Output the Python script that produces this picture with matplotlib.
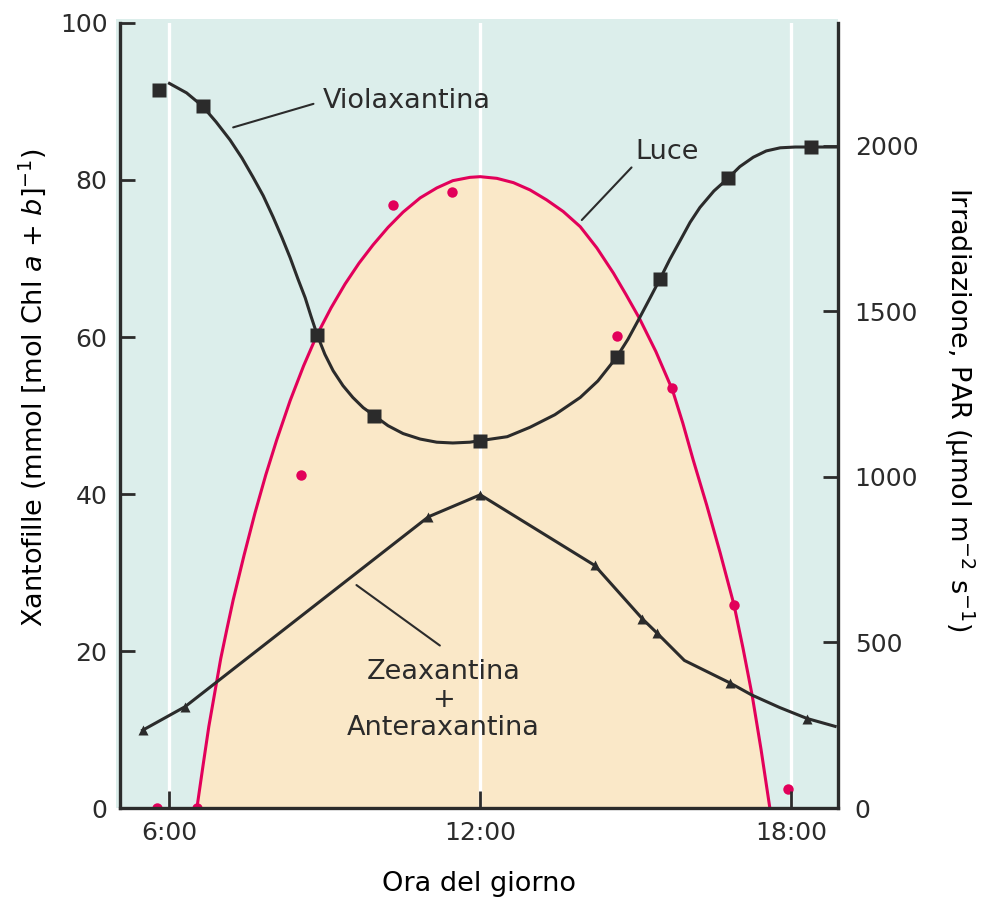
import matplotlib.pyplot as plt
from matplotlib.patches import Rectangle

# ore del giorno (h)
# Violaxantina: punti misurati (quadrati) e curva
viola_t = [5.80, 6.64, 8.85, 9.95, 12.0, 14.63, 15.47, 16.78, 18.38]
viola_v = [91.5, 89.4, 60.2, 50.0, 46.8, 57.4, 67.4, 80.2, 84.2]
viola_curve_t = [6.00, 6.33, 6.64, 6.90, 7.17, 7.40, 7.61, 7.81, 8.00, 8.17, 8.33, 8.48,
                 8.62, 8.73, 8.85, 9.00, 9.16, 9.35, 9.54, 9.74, 9.95, 10.22, 10.51,
                 10.84, 11.16, 11.47, 11.80, 12.0, 12.52, 12.96, 13.44, 13.93, 14.27,
                 14.63, 14.85, 15.08, 15.28, 15.47, 15.66, 15.86, 16.05, 16.24, 16.51,
                 16.78, 17.01, 17.27, 17.52, 17.79, 18.08, 18.38, 18.90]
viola_curve_v = [92.3, 91.1, 89.4, 87.4, 85.1, 82.8, 80.4, 78.0, 75.3, 72.7, 70.1, 67.4,
                 65.0, 62.7, 60.3, 57.8, 55.7, 53.8, 52.3, 51.0, 50.0, 48.7, 47.7,
                 47.0, 46.6, 46.5, 46.6, 46.8, 47.3, 48.5, 50.1, 52.3, 54.4,
                 57.4, 59.7, 62.5, 65.0, 67.4, 69.9, 72.3, 74.6, 76.5, 78.6,
                 80.2, 81.7, 82.9, 83.7, 84.1, 84.2, 84.2, 84.2]

# Zeaxantina + Anteraxantina (triangoli) e linea
zea_t = [5.48, 6.30, 11.0, 12.0, 14.21, 15.13, 15.41, 16.83, 18.31]
zea_v = [9.9, 12.9, 37.1, 39.9, 30.9, 24.1, 22.3, 15.9, 11.4]
zea_line_t = [5.48, 6.30, 11.0, 12.0, 14.21, 15.13, 15.41, 15.94, 16.83, 17.24, 17.78, 18.31, 18.85]
zea_line_v = [9.9, 12.9, 37.1, 39.9, 30.9, 24.1, 22.3, 18.8, 15.9, 14.4, 12.8, 11.4, 10.4]

# Luce (PAR, umol m-2 s-1): curva e punti misurati
luce_t = [6.53, 6.65, 6.76, 6.88, 6.99, 7.11, 7.23, 7.44, 7.65, 7.86, 8.07, 8.33, 8.59,
          8.85, 9.12, 9.39, 9.66, 9.93, 10.22, 10.51, 10.84, 11.16, 11.47, 11.80, 12.0,
          12.32, 12.64, 12.96, 13.28, 13.60, 13.93, 14.25, 14.57, 14.81, 15.07, 15.39,
          15.71, 15.91, 16.11, 16.37, 16.63, 16.90, 17.07, 17.25, 17.42, 17.59]
luce_v = [0, 130, 246, 353, 451, 541, 628, 763, 890, 1006, 1111, 1230, 1335,
          1429, 1510, 1582, 1645, 1700, 1753, 1799, 1842, 1872, 1894, 1904, 1906,
          1901, 1888, 1866, 1836, 1801, 1755, 1691, 1615, 1551, 1479, 1378,
          1262, 1162, 1051, 915, 771, 612, 484, 339, 177, 0]
luce_pt_t = [5.76, 6.53, 8.54, 10.32, 11.46, 14.63, 15.71, 16.90, 17.95]
luce_pt_v = [0, 0, 1005, 1821, 1861, 1425, 1267, 613, 56]

ore = [6, 12, 18]
ore_lab = ['6:00', '12:00', '18:00']

teal = '#DCEEEB'
pesca = '#FAE8C8'
rosso = '#E2005A'
nero = '#2B2B2B'

plt.rcParams['font.family'] = 'DejaVu Sans'
plt.rcParams['text.color'] = nero

fig = plt.figure(figsize=(9.81, 8.98), dpi=100)
# sfondo che sborda un poco oltre gli assi
fig.add_artist(Rectangle((116 / 981, 90 / 898), 722 / 981, 789 / 898,
                         transform=fig.transFigure, color=teal, lw=0, zorder=-1))
ax = fig.add_axes([0.1223, 0.1002, 0.7319, 0.8742])
ax2 = ax.twinx()

# asse PAR sotto, xantofille sopra
ax.set_zorder(ax2.get_zorder() + 1)
ax.patch.set_visible(False)
ax2.patch.set_visible(False)

# luce
ax2.fill_between(luce_t, 0, luce_v, color=pesca, lw=0, zorder=1)
for h in ore:
    ax2.axvline(h, color='white', lw=2.4, zorder=1.5)
ax2.plot(luce_t, luce_v, color=rosso, lw=2.2, zorder=2)
ax2.plot(luce_pt_t, luce_pt_v, 'o', color=rosso, ms=7.5, mec='none', zorder=3)

# xantofille
ax.plot(viola_curve_t, viola_curve_v, color=nero, lw=2.2, zorder=3)
ax.plot(viola_t, viola_v, 's', color=nero, ms=10.5, mec='none', zorder=4)
ax.plot(zea_line_t, zea_line_v, color=nero, lw=2.2, zorder=3)
ax.plot(zea_t, zea_v, '^', color=nero, ms=7, mec='none', zorder=4)

# etichette delle curve
lp = dict(arrowstyle='-', color=nero, lw=1.5, shrinkA=0, shrinkB=0)
ax.annotate('', xy=(7.23, 86.7), xytext=(8.78, 89.7), arrowprops=lp)
ax.text(8.96, 90.1, 'Violaxantina', fontsize=19.5, ha='left', va='center')
ax.annotate('', xy=(13.96, 74.9), xytext=(14.92, 81.6), arrowprops=lp)
ax.text(14.99, 83.6, 'Luce', fontsize=19.5, ha='left', va='center')
ax.annotate('', xy=(9.61, 28.4), xytext=(11.22, 20.7), arrowprops=lp)
ax.text(11.29, 13.7, 'Zeaxantina\n+\nAnteraxantina', fontsize=19.5, ha='center',
        va='center', linespacing=1.1)

# assi
ax.set_xlim(5.045, 18.905)
ax.set_ylim(0, 100)
ax2.set_ylim(0, 2370)

ax.set_xticks(ore)
ax.set_xticklabels(ore_lab)
ax.set_yticks([0, 20, 40, 60, 80, 100])
ax2.set_yticks([0, 500, 1000, 1500, 2000])

ax.tick_params(axis='x', direction='in', length=12, width=2, color=nero,
               labelsize=18, labelcolor=nero, pad=9)
ax.tick_params(axis='y', direction='in', length=11, width=2, color=nero,
               labelsize=18, labelcolor=nero, pad=9)
ax2.tick_params(axis='y', direction='in', length=11, width=2, color=nero,
                labelsize=18, labelcolor=nero, pad=12)

for s in ['top', 'right']:
    ax.spines[s].set_visible(False)
for s in ['top', 'left', 'bottom']:
    ax2.spines[s].set_visible(False)
for s in ['left', 'bottom']:
    ax.spines[s].set_linewidth(2.4)
    ax.spines[s].set_color(nero)
ax2.spines['right'].set_linewidth(2.4)
ax2.spines['right'].set_color(nero)

ax.set_xlabel('Ora del giorno', fontsize=19.5)
ax.xaxis.set_label_coords(0.5, -0.08)
ax.set_ylabel('Xantofille (mmol [mol Chl $a$ + $b$]$^{-1}$)', fontsize=19.5)
ax.yaxis.set_label_coords(-0.1, 0.535)
ax2.set_ylabel('Irradiazione, PAR (µmol m$^{-2}$ s$^{-1}$)', fontsize=19.5,
               rotation=270, va='bottom')
ax2.yaxis.set_label_coords(1.145, 0.508)

fig.savefig('out.png', dpi=100)
